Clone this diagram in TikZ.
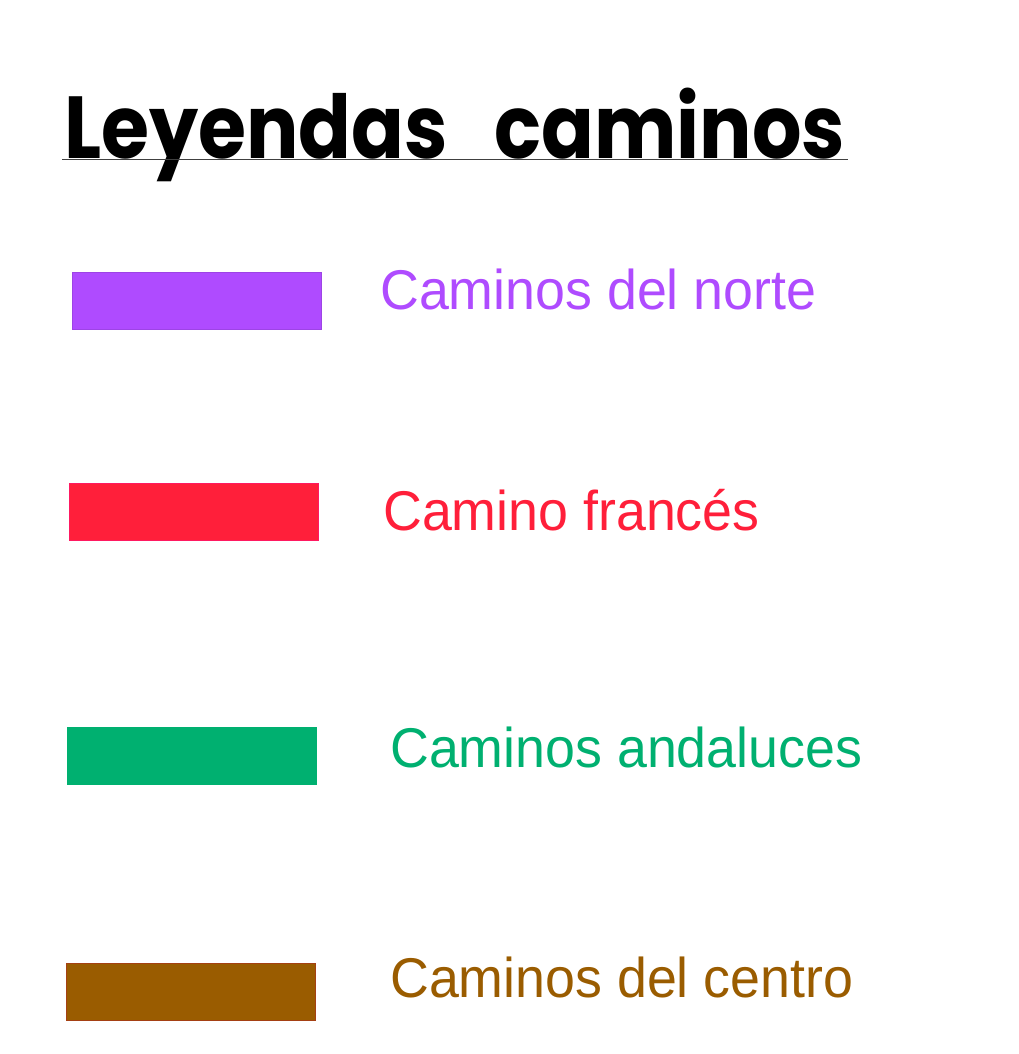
\documentclass[tikz,border=0pt]{standalone}
\usepackage{fontspec}
\setmainfont{Liberation Sans}
\newfontfamily\titlefont{Poppins}[BoldFont={* Bold}]
\usetikzlibrary{positioning}
\definecolor{norte}{HTML}{AF4BFF}
\definecolor{frances}{HTML}{FF1F3A}
\definecolor{andaluz}{HTML}{00B070}
\definecolor{centro}{HTML}{9A5C00}

\begin{document}
\begin{tikzpicture}[x=1pt, y=-1pt,
  swatch/.style={draw, line width=0.8pt, minimum width=249pt, minimum height=57pt, inner sep=0pt, anchor=north west},
  label/.style={anchor=base west, inner sep=0pt, xscale=0.96, font=\fontsize{56}{60}\selectfont}]
\useasboundingbox (0,0) rectangle (1018,1054);
% title
\node[anchor=base west, inner sep=0pt, xscale=0.884, font=\titlefont\bfseries\fontsize{88}{92}\selectfont] (title) at (64,158) {Leyendas\hspace{53pt}caminos};
\coordinate (ul) at (62,159);
\coordinate (ur) at (848,159);
\draw[line width=0.8pt, black!75] (ul) -- (ur);
% legend entries
\node[swatch, fill=norte, draw=norte!90!black] (bnorte) at (72,272) {};
\node[label, text=norte] (tnorte) at (380,309) {Caminos del norte};
\node[swatch, fill=frances, draw=frances!80!magenta] (bfrances) at (69,483) {};
\node[label, text=frances] (tfrances) at (383,530) {Camino francés};
\node[swatch, fill=andaluz, draw=andaluz] (bandaluz) at (67,727) {};
\node[label, text=andaluz] (tandaluz) at (390,767) {Caminos andaluces};
\node[swatch, fill=centro, draw=centro!70!purple] (bcentro) at (66,963) {};
\node[label, text=centro] (tcentro) at (390,997) {Caminos del centro};
\end{tikzpicture}
\end{document}
